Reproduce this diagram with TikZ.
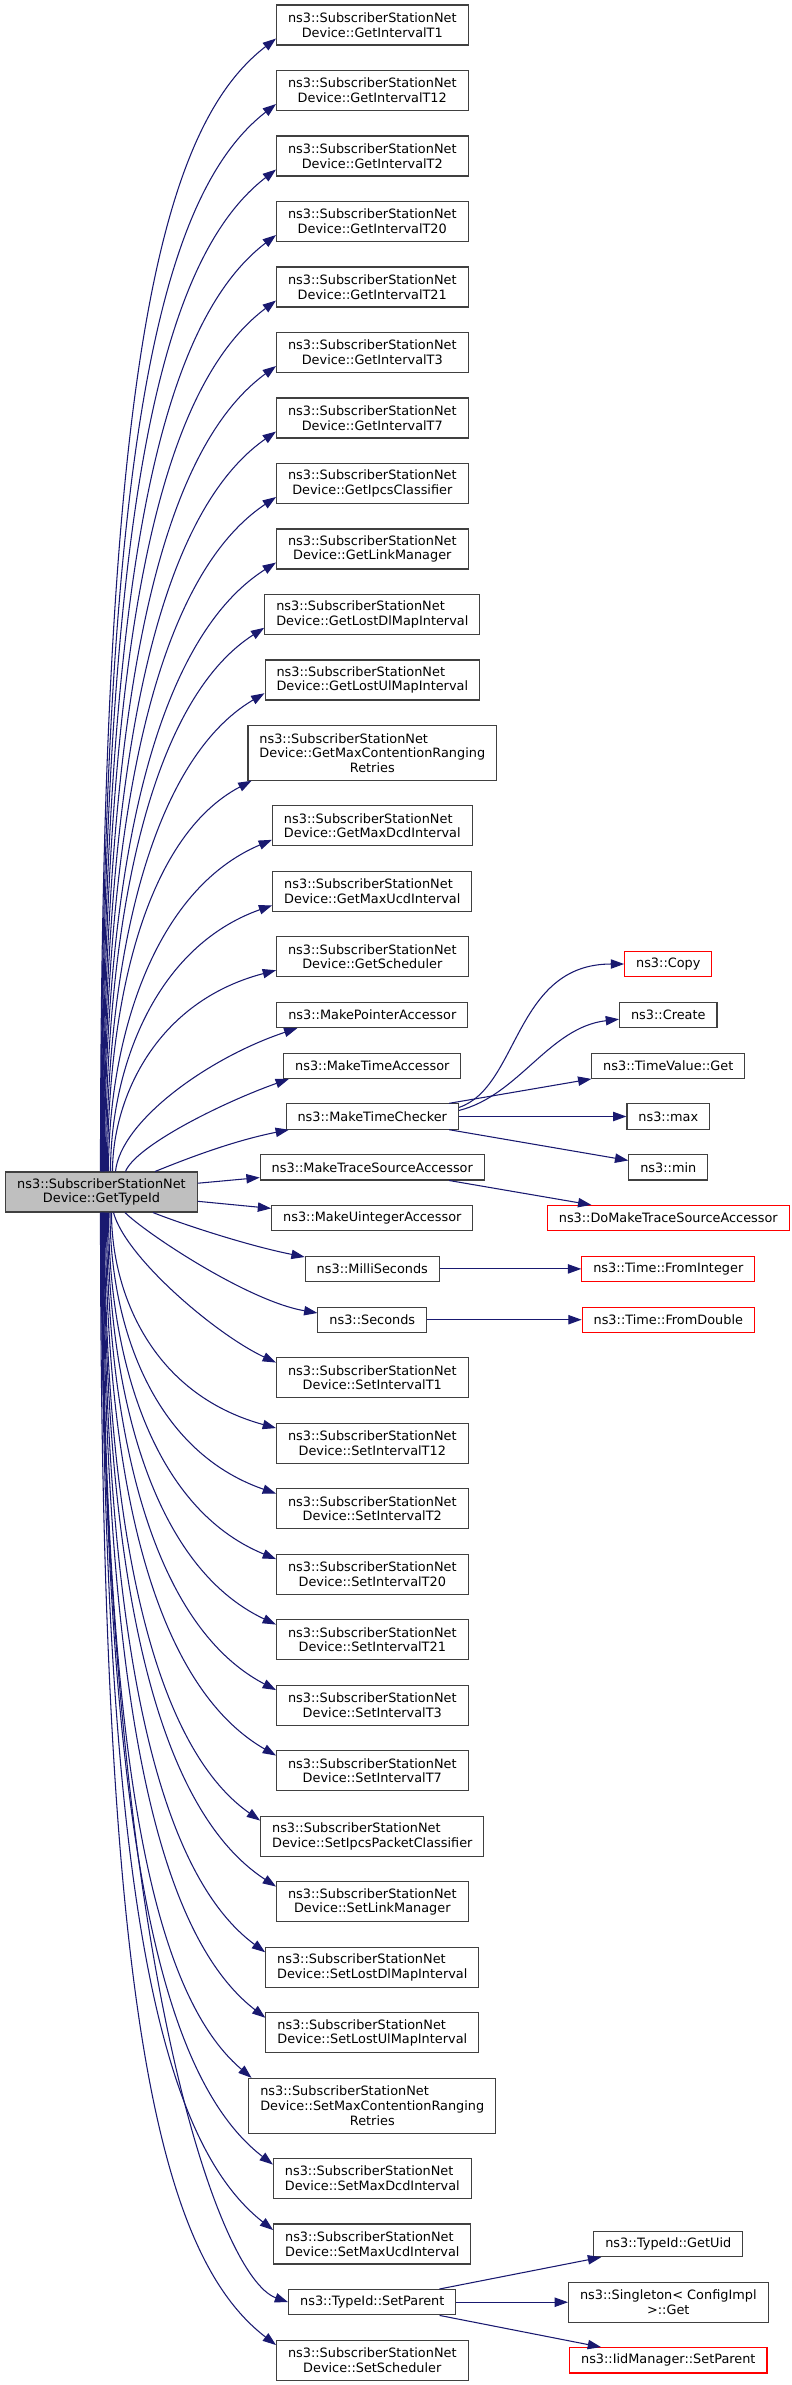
\documentclass[tikz,border=0pt]{standalone}
\usepackage{fontspec}
\setmainfont{DejaVu Sans}
\usepackage{tikz}
\usetikzlibrary{calc}
\usetikzlibrary{arrows.meta}
\definecolor{edgeblue}{HTML}{191970}
\definecolor{boxgray}{HTML}{404040}
\definecolor{mainfill}{HTML}{BFBFBF}
\newcommand{\fnone}[4]{\node[fn, minimum height=19pt] (#1) at (#2,#3) {#4};}
\newcommand{\fntwo}[4]{\node[fn, minimum height=30pt] (#1) at (#2,#3) {#4};}
\newcommand{\fnthree}[4]{\node[fn, minimum height=41pt] (#1) at (#2,#3) {#4};}
\newcommand{\fnred}[4]{\node[fn, draw=red, minimum height=19pt] (#1) at (#2,#3) {#4};}
\newcommand{\padl}[2]{\rlap{#1}\hphantom{#2}}
\newcommand{\fanup}[6]{\draw[call] ($(#1.north)+(#2,0)$) .. controls +(0,-#3) and +(-#4,#5) .. (#6);}
\newcommand{\fandown}[6]{\draw[call] ($(#1.south)+(#2,0)$) .. controls +(0,#3) and +(-#4,-#5) .. (#6);}
\tikzset{
  fn/.style={draw=boxgray, fill=white, line width=0.8pt, inner xsep=8.6pt, inner ysep=0pt,
    align=center, font=\fontsize{9.65}{11}\selectfont},
  call/.style={draw=edgeblue, line width=0.8pt, -{Triangle[length=10pt,width=7pt]}}
}

\begin{document}
\begin{tikzpicture}[x=0.75pt, y=-0.75pt]
        \useasboundingbox (0,0) rectangle (792,2385);
        % caller
        \node[fn, fill=mainfill, minimum height=30pt] (typeid) at (101.5,1192) {ns3::SubscriberStationNet\\Device::GetTypeId};
        % getters
        \fntwo{getT1}{372.3}{25}{ns3::SubscriberStationNet\\Device::GetIntervalT1}
        \fntwo{getT12}{372.3}{90.5}{ns3::SubscriberStationNet\\Device::GetIntervalT12}
        \fntwo{getT2}{372.3}{156}{ns3::SubscriberStationNet\\Device::GetIntervalT2}
        \fntwo{getT20}{372.3}{221.5}{ns3::SubscriberStationNet\\Device::GetIntervalT20}
        \fntwo{getT21}{372.3}{287}{ns3::SubscriberStationNet\\Device::GetIntervalT21}
        \fntwo{getT3}{372.3}{352.5}{ns3::SubscriberStationNet\\Device::GetIntervalT3}
        \fntwo{getT7}{372.3}{418}{ns3::SubscriberStationNet\\Device::GetIntervalT7}
        \fntwo{getIpcs}{372.3}{483.5}{ns3::SubscriberStationNet\\Device::GetIpcsClassifier}
        \fntwo{getLink}{372.3}{549}{ns3::SubscriberStationNet\\Device::GetLinkManager}
        \fntwo{getLostDl}{372.3}{614.5}{\padl{ns3::SubscriberStationNet}{Device::GetLostDlMapInterval}\\Device::GetLostDlMapInterval}
        \fntwo{getLostUl}{372.3}{680}{\padl{ns3::SubscriberStationNet}{Device::GetLostUlMapInterval}\\Device::GetLostUlMapInterval}
        \fnthree{getMaxCR}{372.3}{752.9}{\padl{ns3::SubscriberStationNet}{Device::GetMaxContentionRanging}\\Device::GetMaxContentionRanging\\Retries}
        \fntwo{getMaxDcd}{372.3}{825.7}{\padl{ns3::SubscriberStationNet}{Device::GetMaxDcdInterval}\\Device::GetMaxDcdInterval}
        \fntwo{getMaxUcd}{372.3}{891.2}{\padl{ns3::SubscriberStationNet}{Device::GetMaxUcdInterval}\\Device::GetMaxUcdInterval}
        \fntwo{getSched}{372.3}{956.7}{ns3::SubscriberStationNet\\Device::GetScheduler}
        % helpers
        \fnone{mkPtr}{372.3}{1014.9}{ns3::MakePointerAccessor}
        \fnone{mkTimeAcc}{372.3}{1065.7}{ns3::MakeTimeAccessor}
        \fnone{mkTimeChk}{372.3}{1116.5}{ns3::MakeTimeChecker}
        \fnone{mkTrace}{372.3}{1167.3}{ns3::MakeTraceSourceAccessor}
        \fnone{mkUint}{372.3}{1218.1}{ns3::MakeUintegerAccessor}
        \fnone{milli}{372.3}{1268.9}{ns3::MilliSeconds}
        \fnone{secs}{372.3}{1319.7}{ns3::Seconds}
        % setters
        \fntwo{setT1}{372.3}{1377.8}{ns3::SubscriberStationNet\\Device::SetIntervalT1}
        \fntwo{setT12}{372.3}{1443.3}{ns3::SubscriberStationNet\\Device::SetIntervalT12}
        \fntwo{setT2}{372.3}{1508.8}{ns3::SubscriberStationNet\\Device::SetIntervalT2}
        \fntwo{setT20}{372.3}{1574.3}{ns3::SubscriberStationNet\\Device::SetIntervalT20}
        \fntwo{setT21}{372.3}{1639.8}{ns3::SubscriberStationNet\\Device::SetIntervalT21}
        \fntwo{setT3}{372.3}{1705.3}{ns3::SubscriberStationNet\\Device::SetIntervalT3}
        \fntwo{setT7}{372.3}{1770.8}{ns3::SubscriberStationNet\\Device::SetIntervalT7}
        \fntwo{setIpcs}{372.3}{1836.3}{\padl{ns3::SubscriberStationNet}{Device::SetIpcsPacketClassifier}\\Device::SetIpcsPacketClassifier}
        \fntwo{setLink}{372.3}{1901.8}{ns3::SubscriberStationNet\\Device::SetLinkManager}
        \fntwo{setLostDl}{372.3}{1967.3}{\padl{ns3::SubscriberStationNet}{Device::SetLostDlMapInterval}\\Device::SetLostDlMapInterval}
        \fntwo{setLostUl}{372.3}{2032.8}{\padl{ns3::SubscriberStationNet}{Device::SetLostUlMapInterval}\\Device::SetLostUlMapInterval}
        \fnthree{setMaxCR}{372.3}{2105.7}{\padl{ns3::SubscriberStationNet}{Device::SetMaxContentionRanging}\\Device::SetMaxContentionRanging\\Retries}
        \fntwo{setMaxDcd}{372.3}{2178.5}{\padl{ns3::SubscriberStationNet}{Device::SetMaxDcdInterval}\\Device::SetMaxDcdInterval}
        \fntwo{setMaxUcd}{372.3}{2244}{\padl{ns3::SubscriberStationNet}{Device::SetMaxUcdInterval}\\Device::SetMaxUcdInterval}
        \fnone{setParent}{372.3}{2302.2}{ns3::TypeId::SetParent}
        \fntwo{setSched}{372.3}{2360.3}{ns3::SubscriberStationNet\\Device::SetScheduler}
        % third column
        \fnred{copy}{668.3}{964}{ns3::Copy}
        \fnone{create}{668.3}{1014.9}{ns3::Create}
        \fnone{tvGet}{668.3}{1065.7}{ns3::TimeValue::Get}
        \fnone{tmax}{668.3}{1116.5}{ns3::max}
        \fnone{tmin}{668.3}{1167.3}{ns3::min}
        \fnred{doMake}{668.3}{1218.1}{ns3::DoMakeTraceSourceAccessor}
        \fnred{fromInt}{668.3}{1268.9}{ns3::Time::FromInteger}
        \fnred{fromDbl}{668.3}{1319.7}{ns3::Time::FromDouble}
        \fnone{getUid}{668.3}{2244}{ns3::TypeId::GetUid}
        \fntwo{singGet}{668.3}{2302.2}{ns3::Singleton< ConfigImpl\\>::Get}
        \fnred{iidSet}{668.3}{2360.3}{ns3::IidManager::SetParent}
        % calls going up
        \fanup{typeid}{-1}{794}{118}{91}{getT1.188}
        \fanup{typeid}{-0.5}{721}{118}{92}{getT12.188}
        \fanup{typeid}{0}{653}{119}{92}{getT2.188}
        \fanup{typeid}{0.5}{587}{119}{91}{getT20.188}
        \fanup{typeid}{1}{525}{120}{90}{getT21.188}
        \fanup{typeid}{1.5}{465}{120}{88}{getT3.188}
        \fanup{typeid}{2}{410}{120}{84}{getT7.188}
        \fanup{typeid}{2.5}{357}{121}{81}{getIpcs.188}
        \fanup{typeid}{3}{307}{121}{77}{getLink.188}
        \fanup{typeid}{4}{261}{112}{72}{getLostDl.187}
        \fanup{typeid}{5}{218}{112}{66}{getLostUl.187}
        \fanup{typeid}{6}{165}{108}{57}{getMaxCR.193}
        \fanup{typeid}{7}{133}{118}{50}{getMaxDcd.188}
        \fanup{typeid}{9}{102}{118}{42}{getMaxUcd.188}
        \fanup{typeid}{11}{71}{122}{32}{getSched.188}
        \draw[call] ($(typeid.north)+(14,0)$) .. controls +(5,-50) and +(-90,30) .. (mkPtr.190);
        \draw[call] ($(typeid.north)+(24,0)$) .. controls +(10,-25) and +(-70,25) .. (mkTimeAcc.189);
        \draw[call] ($(typeid.north)+(53.5,0)$) .. controls +(25,-10) and +(-60,12) .. (mkTimeChk.189);
        % calls straight across
        \draw[call] (typeid) -- (mkTrace);
        \draw[call] (typeid) -- (mkUint);
        % calls going down
        \draw[call] ($(typeid.south)+(51.5,0)$) .. controls +(25,10) and +(-60,-12) .. (milli.170);
        \draw[call] ($(typeid.south)+(23.5,0)$) .. controls +(20,20) and +(-70,-12) .. (secs.173);
        \draw[call] ($(typeid.south)+(12,0)$) .. controls +(12,45) and +(-60,-28) .. (setT1.171);
        \fandown{typeid}{10}{78}{126}{34.5}{setT12.171}
        \fandown{typeid}{8.5}{108}{126}{43.6}{setT2.171}
        \fandown{typeid}{7}{140.5}{126}{51.7}{setT20.171}
        \fandown{typeid}{6}{177}{125}{59}{setT21.171}
        \fandown{typeid}{5}{217}{125}{65.5}{setT3.171}
        \fandown{typeid}{4}{260}{125}{72}{setT7.171}
        \fandown{typeid}{3}{307}{110}{77}{setIpcs.172}
        \fandown{typeid}{2.5}{356}{124}{81}{setLink.171}
        \fandown{typeid}{2}{408}{114}{84}{setLostDl.172}
        \fandown{typeid}{1.5}{465}{114}{88}{setLostUl.172}
        \fandown{typeid}{1}{520}{106}{90}{setMaxCR.167}
        \fandown{typeid}{0.5}{600}{118}{91}{setMaxDcd.172}
        \fandown{typeid}{0}{668}{117}{92}{setMaxUcd.172}
        \draw[call] ($(typeid.south)+(-0.5,0)$) .. controls +(0,744) and +(-70,-25) .. (setParent.west);
        \fandown{typeid}{-1}{793}{118.6}{91}{setSched.171}
        % second level calls
        \draw[call] (mkTimeChk.6) .. controls +(60,-20) and +(-110,0) .. (copy.west);
        \draw[call] (mkTimeChk.4) .. controls +(60,-15) and +(-70,8) .. (create.185);
        \draw[call] (mkTimeChk) -- (tvGet);
        \draw[call] (mkTimeChk) -- (tmax);
        \draw[call] (mkTimeChk) -- (tmin);
        \draw[call] (mkTrace) -- (doMake);
        \draw[call] (milli) -- (fromInt);
        \draw[call] (secs) -- (fromDbl);
        \draw[call] (setParent) -- (getUid);
        \draw[call] (setParent) -- (singGet);
        \draw[call] (setParent) -- (iidSet);
\end{tikzpicture}
\end{document}
